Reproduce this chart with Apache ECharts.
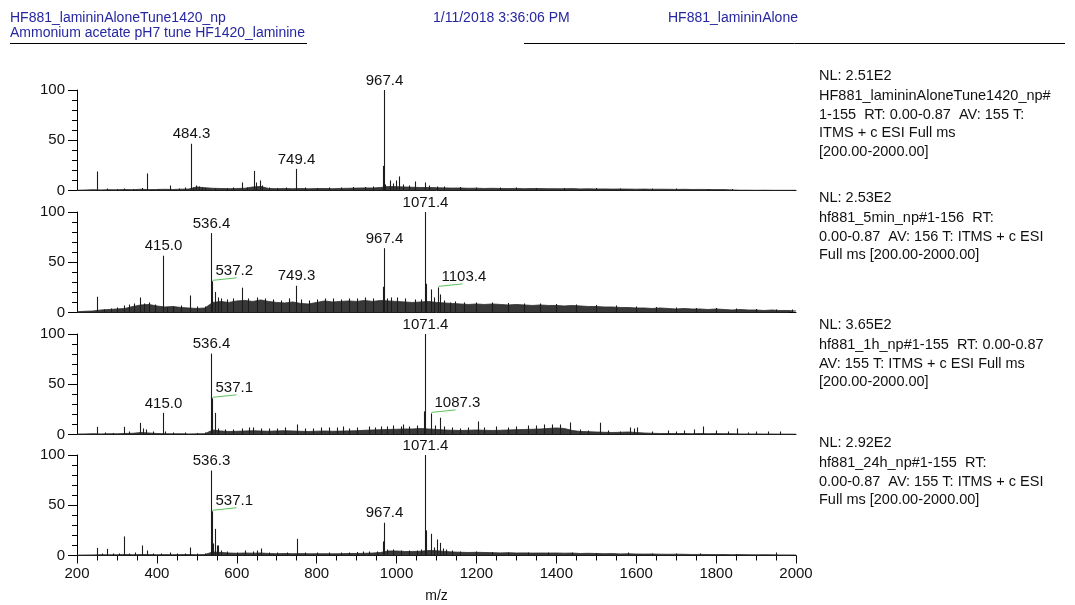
<!DOCTYPE html>
<html>
<head>
<meta charset="utf-8">
<script src="https://cdn.jsdelivr.net/npm/echarts/dist/echarts.min.js"></script>
<style>
  html, body { margin: 0; padding: 0; background: #fff; }
  #chart { width: 1075px; height: 605px; }
</style>
</head>
<body>
<div id="chart"></div>
<script>
// m/z grid for the baseline noise envelope of each scan
const floorMz = [
  200, 220, 240, 260, 280, 300, 320, 340, 360, 380,
  400, 420, 440, 460, 480, 500, 520, 540, 560, 580,
  600, 620, 640, 660, 680, 700, 720, 740, 760, 780,
  800, 820, 840, 860, 880, 900, 920, 940, 960, 980,
  1000, 1020, 1040, 1060, 1080, 1100, 1120, 1140, 1160, 1180,
  1200, 1220, 1240, 1260, 1280, 1300, 1320, 1340, 1360, 1380,
  1400, 1420, 1440, 1460, 1480, 1500, 1520, 1540, 1560, 1580,
  1600, 1620, 1640, 1660, 1680, 1700, 1720, 1740, 1760, 1780,
  1800, 1820, 1840, 1860, 1880, 1900, 1920, 1940, 1960, 1980,
  2000
];

// relative abundance (%) of the noise floor per scan
const floorAlone = [
  0.3, 0.5, 0.8, 0.6, 0.8, 0.7, 1.0, 0.8, 1.2, 0.9,
  1.0, 1.2, 1.0, 1.3, 1.5, 3.5, 2.8, 2.2, 2.0, 1.8,
  2.0, 2.2, 3.5, 4.0, 2.0, 1.8, 2.0, 1.8, 2.0, 1.7,
  1.9, 2.0, 1.8, 2.1, 2.2, 2.4, 2.6, 2.5, 3.0, 4.0,
  3.8, 3.5, 3.2, 3.0, 3.0, 2.8, 2.6, 2.4, 2.5, 2.2,
  2.3, 2.0, 2.2, 2.0, 1.9, 2.1, 1.8, 2.0, 1.9, 1.8,
  1.8, 1.7, 1.9, 1.6, 1.7, 1.5, 1.6, 1.4, 1.5, 1.4,
  1.3, 1.4, 1.2, 1.3, 1.2, 1.1, 1.2, 1.0, 1.1, 1.0,
  0.9, 0.9, 0.6, 0.3, 0.3, 0.2, 0.3, 0.2, 0.2, 0.2,
  0.2
];
const floor5min = [
  0.8, 1.2, 1.5, 2.5, 3.0, 3.5, 4.0, 6.0, 7.5, 8.0,
  6.5, 5.5, 6.0, 5.0, 4.5, 4.0, 4.5, 10.0, 11.0, 10.0,
  11.5, 12.0, 11.0, 12.5, 11.0, 10.0, 9.5, 10.5, 9.0, 8.5,
  10.0, 11.5, 10.5, 11.0, 11.5, 11.0, 12.0, 11.0, 12.0, 11.5,
  11.0, 10.5, 10.0, 10.5, 11.0, 10.0, 9.5, 9.0, 8.5, 8.0,
  8.5, 8.0, 8.5, 8.0, 7.5, 8.0, 7.5, 7.0, 7.5, 7.0,
  7.0, 6.5, 7.0, 6.5, 6.0, 6.0, 5.5, 5.5, 5.0, 5.0,
  4.5, 4.5, 4.0, 4.5, 4.0, 3.5, 4.0, 3.5, 3.5, 3.0,
  3.5, 3.0, 2.5, 3.0, 2.5, 2.5, 2.0, 2.5, 2.0, 2.0,
  1.5
];
const floor1h = [
  0.5, 0.6, 0.8, 0.6, 0.8, 0.7, 1.0, 1.2, 2.0, 1.5,
  1.0, 0.8, 0.7, 0.8, 0.6, 0.7, 0.8, 4.5, 3.5, 3.0,
  3.2, 3.5, 3.8, 3.5, 3.2, 3.6, 3.8, 3.5, 3.2, 3.0,
  3.3, 3.5, 3.2, 3.4, 3.6, 3.8, 4.2, 4.5, 4.8, 5.0,
  5.2, 5.5, 5.5, 6.0, 5.5, 5.0, 4.5, 4.2, 4.0, 4.2,
  4.5, 4.2, 4.0, 4.2, 4.5, 4.8, 5.0, 5.2, 5.5, 6.0,
  6.5, 6.0, 4.0, 3.0, 2.8, 2.5, 2.2, 2.0, 2.2, 2.5,
  2.0, 1.5, 1.2, 1.0, 1.0, 0.9, 1.0, 0.8, 1.0, 0.8,
  0.9, 0.8, 0.8, 0.6, 0.5, 0.6, 0.5, 0.5, 0.4, 0.4,
  0.3
];
const floor24h = [
  0.4, 0.5, 0.6, 0.8, 0.7, 0.8, 1.0, 0.8, 1.0, 0.9,
  0.8, 0.9, 0.8, 0.9, 1.0, 0.8, 1.0, 3.5, 3.0, 2.5,
  2.2, 2.5, 2.3, 2.5, 2.0, 1.8, 2.0, 1.8, 1.9, 1.7,
  1.8, 1.8, 1.7, 1.8, 2.0, 2.0, 2.2, 2.4, 3.0, 4.5,
  4.5, 4.0, 4.0, 4.2, 5.0, 4.8, 4.0, 3.5, 3.2, 3.0,
  3.2, 3.0, 2.8, 2.6, 2.8, 2.5, 2.6, 2.4, 2.5, 2.4,
  2.5, 2.3, 2.4, 2.0, 2.2, 2.0, 1.8, 1.9, 1.6, 1.7,
  1.5, 1.4, 1.5, 1.3, 1.2, 1.3, 1.2, 1.0, 1.1, 1.0,
  0.9, 1.0, 0.8, 0.9, 0.8, 0.7, 0.8, 0.7, 0.6, 0.6,
  0.5
];

// centroid peaks: [m/z, relative abundance %, label mode]
// label mode 1 = m/z above the peak, 2 = m/z offset with a guide line
const peaksAlone = [
  [251, 19], [274, 2], [300, 1.5], [318, 2], [340, 1.5], [362, 2.5], [375, 17],
  [402, 1.5], [433, 5], [455, 2], [470, 3], [484.3, 46.5, 1], [490, 3], [498, 5],
  [505, 4], [512, 3], [520, 2.5], [545, 2], [575, 2.5], [590, 3], [613, 8],
  [625, 3], [644, 19.5], [648, 8], [657, 10], [664, 5], [680, 3], [700, 2.5],
  [722, 3], [749.4, 21.5, 1], [770, 3], [800, 2.5], [830, 3], [860, 3], [890, 3.5],
  [920, 3.5], [940, 4], [965.5, 24.5], [967.4, 100, 1], [972, 6], [983, 10],
  [990, 7], [998, 10], [1006, 14], [1015, 6], [1030, 5], [1046, 9], [1071, 8],
  [1080, 5], [1100, 4], [1120, 4], [1160, 3.5], [1200, 3], [1260, 3], [1300, 3],
  [1350, 2.5], [1420, 2.5], [1500, 2.5], [1560, 2], [1640, 2], [1700, 2],
  [1780, 1.5], [1840, 1.5]
];
const peaks5min = [
  [251, 15.7], [268, 3], [285, 4], [300, 5], [318, 7], [330, 8], [342, 9],
  [357, 15], [368, 9], [380, 10], [395, 8], [415.0, 56.5, 1], [425, 5], [440, 6],
  [460, 7], [484, 17], [500, 6], [520, 6], [536.4, 79, 1], [537.2, 31, 2],
  [545.5, 20.5], [552, 15], [560, 14], [575, 13], [590, 14], [613, 24.7], [628, 14],
  [650, 15], [670, 14], [690, 13], [710, 12], [730, 14], [749.3, 26.6, 1], [760, 13],
  [780, 12], [800, 13], [820, 14], [840, 14], [860, 13], [880, 14], [900, 14],
  [920, 15], [940, 14], [965.5, 25.6], [967.4, 64, 1], [975, 14], [985, 15],
  [1000, 15], [1020, 14], [1045, 13], [1060, 13], [1071.4, 100, 1], [1074, 28.6],
  [1086, 23], [1093, 15], [1103.4, 25, 2], [1109.7, 18], [1120, 12], [1134, 10],
  [1146, 11], [1170, 10], [1200, 10], [1240, 10], [1280, 9.5], [1320, 9], [1360, 9],
  [1400, 8.5], [1450, 8], [1500, 7.5], [1550, 7], [1600, 6], [1650, 5.5], [1700, 5],
  [1750, 4.5], [1800, 4.5], [1850, 4], [1900, 3.5], [1950, 3], [1990, 3]
];
const peaks1h = [
  [251, 7.6], [270, 2], [290, 1.5], [317.7, 7.6], [330, 3], [357, 11.6], [365, 6],
  [372, 5], [390, 3], [415.0, 21.5, 1], [420, 3], [440, 2], [470, 2], [500, 1.5],
  [520, 2], [536.4, 80.5, 1], [537.1, 36, 2], [545.5, 21.5], [554, 6], [570, 5],
  [590, 5], [614, 6], [630, 7], [641, 7], [660, 6], [680, 6], [700, 6], [720, 7],
  [751, 10], [770, 6], [790, 6], [810, 7], [830, 7], [850, 7], [867, 8], [880, 6],
  [900, 7], [930, 8], [945, 7], [960, 8], [975, 8], [990, 9], [1010, 8], [1017, 10],
  [1030, 8], [1050, 9], [1069, 23], [1071.4, 100, 1], [1087.3, 21, 2], [1095, 9],
  [1109, 16.7], [1120, 8], [1140, 7], [1160, 6], [1180, 7], [1203, 13], [1220, 7],
  [1250, 8], [1280, 7], [1300, 8], [1330, 9], [1350, 9], [1370, 10], [1390, 10],
  [1410, 10], [1434, 12], [1460, 5], [1480, 4], [1509, 11.7], [1530, 4], [1560, 3],
  [1585, 7], [1595, 6], [1602, 7], [1640, 3], [1680, 4], [1700, 3], [1720, 4],
  [1745, 5], [1767, 8], [1800, 4], [1830, 3], [1852, 6], [1880, 2], [1900, 3],
  [1930, 3], [1960, 3]
];
const peaks24h = [
  [249, 7.6], [262, 2], [274, 6.6], [290, 2], [305, 2], [317.7, 19], [330, 2],
  [345, 3], [362, 10], [374.5, 5], [390, 2], [410, 2], [433, 3], [450, 2], [470, 2],
  [483.7, 8], [500, 2], [520, 2], [536.3, 84.5, 1], [537.1, 44, 2], [540, 12],
  [545.5, 26.5], [550, 10], [554, 10], [560, 5], [575, 4], [600, 3], [620.6, 5],
  [640, 4], [650, 5], [660.7, 7], [680, 3], [700, 3], [725, 3], [750, 16.6],
  [770, 3], [800, 3], [830, 3], [860, 3], [880, 3], [900, 3.5], [915, 4], [930, 4],
  [950, 4], [965.5, 14], [967.4, 32.6, 1], [975, 6], [990, 6], [1010, 5], [1030, 5],
  [1050, 5], [1060, 6], [1071.4, 100, 1], [1073, 25], [1086, 21.6], [1094, 8],
  [1101.4, 16], [1109, 12.6], [1117, 7], [1125, 6], [1140, 5], [1160, 4], [1200, 4],
  [1240, 3.5], [1280, 3], [1330, 3], [1380, 3], [1440, 3], [1500, 2.5], [1580, 3],
  [1640, 2], [1700, 2], [1760, 2], [1850, 1.5], [1950, 3]
];

// scan header notes printed right of each spectrum
const notesAlone = ['NL: 2.51E2', 'HF881_lamininAloneTune1420_np#', '1-155  RT: 0.00-0.87  AV: 155 T:', 'ITMS + c ESI Full ms', '[200.00-2000.00]'];
const notes5min = ['NL: 2.53E2', 'hf881_5min_np#1-156  RT:', '0.00-0.87  AV: 156 T: ITMS + c ESI', 'Full ms [200.00-2000.00]'];
const notes1h = ['NL: 3.65E2', 'hf881_1h_np#1-155  RT: 0.00-0.87', 'AV: 155 T: ITMS + c ESI Full ms', '[200.00-2000.00]'];
const notes24h = ['NL: 2.92E2', 'hf881_24h_np#1-155  RT:', '0.00-0.87  AV: 155 T: ITMS + c ESI', 'Full ms [200.00-2000.00]'];

const headerLeft = ['HF881_lamininAloneTune1420_np', 'Ammonium acetate pH7 tune HF1420_laminine'];
const headerDate = '1/11/2018 3:36:06 PM';
const headerName = 'HF881_lamininAlone';

const xTicks = { min: 200, max: 2000, step: 200 };
const yTicks = { min: 0, max: 100, step: 50 };
const axisTitle = 'm/z';

// ---- layout ----
const FONT = '"Liberation Sans", Arial, sans-serif';
const panels = [
  { floor: floorAlone, peaks: peaksAlone, notes: notesAlone, top: 90, noteY: 76 },
  { floor: floor5min, peaks: peaks5min, notes: notes5min, top: 212, noteY: 198 },
  { floor: floor1h, peaks: peaks1h, notes: notes1h, top: 334, noteY: 325 },
  { floor: floor24h, peaks: peaks24h, notes: notes24h, top: 455, noteY: 443 }
];
const PLOT_LEFT = 77, PLOT_RIGHT = 796, PANEL_H = 100.5;

function renderPeak(params, api) {
  const mz = api.value(0), h = api.value(1), mode = api.value(2);
  const base = api.coord([mz, 0]);
  const top = api.coord([mz, h]);
  const x = Math.round(base[0]) + 0.5;
  const children = [{
    type: 'line',
    shape: { x1: x, y1: base[1], x2: x, y2: top[1] },
    style: { stroke: '#1c1c1c', lineWidth: 1.1 }
  }];
  const txt = mz.toFixed(1);
  if (mode === 1) {
    children.push({
      type: 'text',
      style: { text: txt, x: x, y: top[1] - 2, align: 'center', verticalAlign: 'bottom',
               fontSize: 15, fontFamily: FONT, fill: '#111' }
    });
  } else if (mode === 2) {
    children.push({
      type: 'line',
      shape: { x1: x, y1: top[1] - 1, x2: x + 24, y2: top[1] - 3.5 },
      style: { stroke: '#5cc25c', lineWidth: 1 }
    });
    children.push({
      type: 'text',
      style: { text: txt, x: x + 3, y: top[1] - 3, align: 'left', verticalAlign: 'bottom',
               fontSize: 15, fontFamily: FONT, fill: '#111' }
    });
  }
  return { type: 'group', children: children };
}

const grids = [], xAxes = [], yAxes = [], series = [], graphics = [];

panels.forEach(function (p, i) {
  const last = i === panels.length - 1;
  grids.push({ left: PLOT_LEFT, width: PLOT_RIGHT - PLOT_LEFT, top: p.top, height: PANEL_H });
  xAxes.push({
    type: 'value', gridIndex: i, min: xTicks.min, max: xTicks.max, interval: xTicks.step,
    axisLine: { show: true, onZero: false, lineStyle: { color: '#000', width: 1 } },
    axisTick: { show: last, length: 8, lineStyle: { color: '#000' } },
    minorTick: { show: last, splitNumber: 4, length: 5, lineStyle: { color: '#000' } },
    splitLine: { show: false },
    axisLabel: { show: last, fontSize: 15, fontFamily: FONT, color: '#111', margin: 11,
                 formatter: function (v) { return String(v); } },
    name: last ? axisTitle : '',
    nameLocation: 'middle', nameGap: 34,
    nameTextStyle: { fontSize: 14, fontFamily: FONT, color: '#111' }
  });
  yAxes.push({
    type: 'value', gridIndex: i, min: yTicks.min, max: yTicks.max, interval: yTicks.step,
    axisLine: { show: true, lineStyle: { color: '#000', width: 1 } },
    axisTick: { show: true, length: 9, lineStyle: { color: '#000' } },
    minorTick: { show: true, splitNumber: 5, length: 5, lineStyle: { color: '#000' } },
    splitLine: { show: false },
    axisLabel: { fontSize: 15, fontFamily: FONT, color: '#111', margin: 12 }
  });
  series.push({
    type: 'line', xAxisIndex: i, yAxisIndex: i,
    data: floorMz.map(function (m, k) { return [m, p.floor[k]]; }),
    showSymbol: false, silent: true, z: 1,
    lineStyle: { color: '#2a2a2a', width: 0.8 },
    areaStyle: { color: '#383838', opacity: 1 }
  });
  series.push({
    type: 'custom', xAxisIndex: i, yAxisIndex: i, clip: false, z: 2, silent: true,
    renderItem: renderPeak,
    encode: { x: 0, y: 1 },
    data: p.peaks.map(function (pk) { return [pk[0], pk[1], pk[2] || 0]; })
  });
  p.notes.forEach(function (line, k) {
    graphics.push({
      type: 'text', x: 819, y: p.noteY + (k === 0 ? 0 : 20 + (k - 1) * 18.5),
      style: { text: line, fontSize: 14.5, fontFamily: FONT, fill: '#111', verticalAlign: 'middle' }
    });
  });
});

// page header
const HEADER_BLUE = '#2626a2';
const HEADER_SIZE = 14;
graphics.push(
  { type: 'text', x: 10, y: 18.5, style: { text: headerLeft[0], fontSize: HEADER_SIZE, fontFamily: FONT, fill: HEADER_BLUE, verticalAlign: 'middle' } },
  { type: 'text', x: 10, y: 33.5, style: { text: headerLeft[1], fontSize: HEADER_SIZE, fontFamily: FONT, fill: HEADER_BLUE, verticalAlign: 'middle' } },
  { type: 'text', x: 433, y: 18.5, style: { text: headerDate, fontSize: HEADER_SIZE, fontFamily: FONT, fill: HEADER_BLUE, verticalAlign: 'middle' } },
  { type: 'text', x: 668, y: 18.5, style: { text: headerName, fontSize: HEADER_SIZE, fontFamily: FONT, fill: HEADER_BLUE, verticalAlign: 'middle' } },
  { type: 'line', shape: { x1: 10, y1: 43.5, x2: 307, y2: 43.5 }, style: { stroke: '#000', lineWidth: 1 } },
  { type: 'line', shape: { x1: 524, y1: 43.5, x2: 1065, y2: 43.5 }, style: { stroke: '#000', lineWidth: 1 } }
);

const chart = echarts.init(document.getElementById('chart'), null, { renderer: 'canvas' });
chart.setOption({
  backgroundColor: '#fff',
  animation: false,
  grid: grids,
  xAxis: xAxes,
  yAxis: yAxes,
  series: series,
  graphic: graphics
});
</script>
</body>
</html>
